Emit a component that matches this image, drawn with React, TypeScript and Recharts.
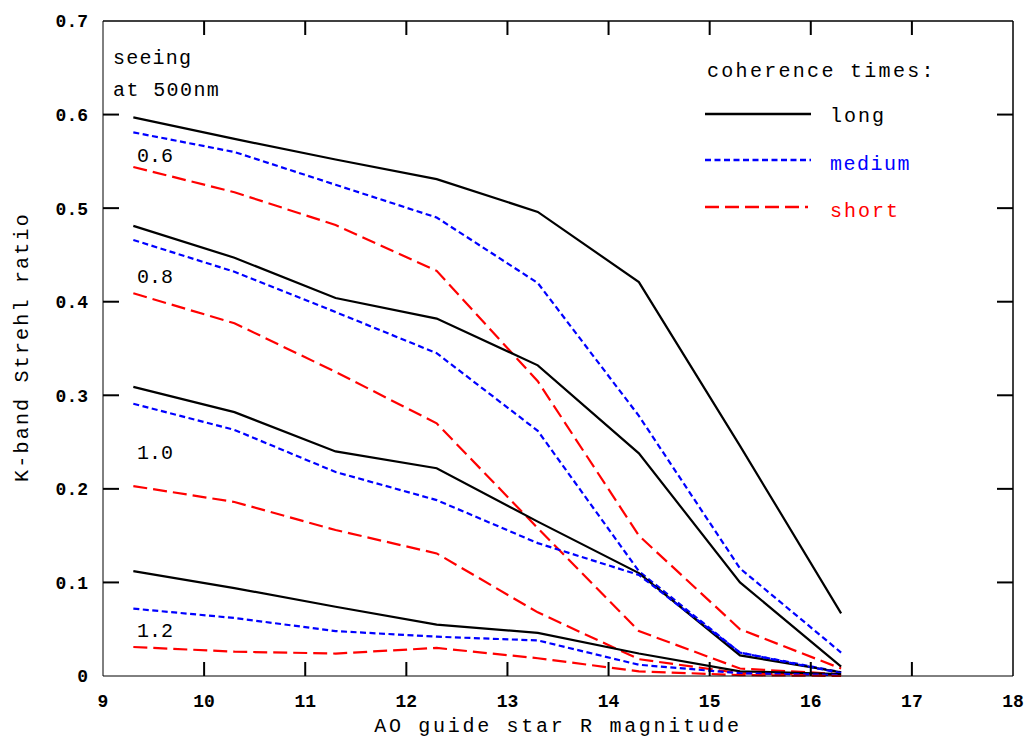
import React from 'react'
import { LineChart, Line, XAxis, YAxis, ReferenceLine } from 'recharts'

// AO guide star R magnitude at which each curve was sampled
const magnitudes = [9.3, 10.3, 11.3, 12.3, 13.3, 14.3, 15.3, 16.3]

// K-band Strehl ratio, one array per seeing value and coherence time
const long06 = [0.597, 0.574, 0.552, 0.531, 0.496, 0.421, 0.246, 0.067]
const medium06 = [0.581, 0.56, 0.525, 0.49, 0.42, 0.278, 0.115, 0.025]
const short06 = [0.544, 0.517, 0.482, 0.433, 0.315, 0.15, 0.05, 0.008]

const long08 = [0.481, 0.447, 0.404, 0.382, 0.332, 0.238, 0.1, 0.01]
const medium08 = [0.466, 0.432, 0.389, 0.345, 0.262, 0.112, 0.025, 0.004]
const short08 = [0.409, 0.377, 0.325, 0.27, 0.158, 0.048, 0.008, 0.002]

const long10 = [0.309, 0.282, 0.24, 0.222, 0.165, 0.11, 0.022, 0.004]
const medium10 = [0.291, 0.263, 0.218, 0.188, 0.142, 0.108, 0.025, 0.003]
const short10 = [0.203, 0.186, 0.156, 0.131, 0.068, 0.018, 0.003, 0.001]

const long12 = [0.112, 0.094, 0.074, 0.055, 0.046, 0.024, 0.005, 0.002]
const medium12 = [0.072, 0.062, 0.048, 0.042, 0.038, 0.012, 0.003, 0.001]
const short12 = [0.031, 0.026, 0.024, 0.03, 0.019, 0.005, 0.001, 0]

const xTicks = [9, 10, 11, 12, 13, 14, 15, 16, 17, 18]
const yTicks = [0, 0.1, 0.2, 0.3, 0.4, 0.5, 0.6, 0.7]
const seeingLabels = ['0.6', '0.8', '1.0', '1.2']

// plot box in pixels (margins + axis sizes below give the same box)
const PLOT = { left: 103, right: 1013, top: 21, bottom: 676 }
const X_DOMAIN = [9, 18]
const Y_DOMAIN = [0, 0.7]

const series = [
  { key: 'long06', values: long06, kind: 'long' },
  { key: 'medium06', values: medium06, kind: 'medium' },
  { key: 'short06', values: short06, kind: 'short' },
  { key: 'long08', values: long08, kind: 'long' },
  { key: 'medium08', values: medium08, kind: 'medium' },
  { key: 'short08', values: short08, kind: 'short' },
  { key: 'long10', values: long10, kind: 'long' },
  { key: 'medium10', values: medium10, kind: 'medium' },
  { key: 'short10', values: short10, kind: 'short' },
  { key: 'long12', values: long12, kind: 'long' },
  { key: 'medium12', values: medium12, kind: 'medium' },
  { key: 'short12', values: short12, kind: 'short' }
]

const styles: Record<string, { color: string; dash?: string }> = {
  long: { color: '#000000' },
  medium: { color: '#0000ff', dash: '6 3.5' },
  short: { color: '#ff0000', dash: '14 6' }
}

const data = magnitudes.map((m, i) => {
  const row: Record<string, number> = { m }
  series.forEach(s => { row[s.key] = s.values[i] })
  return row
})

const FONT = '"Liberation Mono", monospace'
const fmtY = (v: number) => (v === 0 ? '0' : v.toFixed(1))
const tickStyle = { fontFamily: FONT, fontSize: 18, fontWeight: 'bold', fill: '#000' }

const innerX = xTicks.slice(1, -1)
const innerY = yTicks.slice(1, -1)
const px = (v: number) =>
  PLOT.left + ((v - X_DOMAIN[0]) / (X_DOMAIN[1] - X_DOMAIN[0])) * (PLOT.right - PLOT.left)
const py = (v: number) =>
  PLOT.bottom - ((v - Y_DOMAIN[0]) / (Y_DOMAIN[1] - Y_DOMAIN[0])) * (PLOT.bottom - PLOT.top)

const App: React.FC = () => (
  <div style={{ position: 'absolute', left: 0, top: 0, width: 1027, height: 746, background: '#fff' }}>
    <LineChart width={1027} height={746} data={data} margin={{ top: 21, right: 14, bottom: 0, left: 0 }}>
      <XAxis
        dataKey="m"
        type="number"
        domain={X_DOMAIN}
        ticks={xTicks}
        height={70}
        stroke="#000"
        tickLine={false}
        tickMargin={12}
        tick={tickStyle}
        interval={0}
      />
      <YAxis
        type="number"
        domain={Y_DOMAIN}
        ticks={yTicks}
        width={103}
        stroke="#000"
        tickLine={false}
        tickMargin={9}
        tick={tickStyle}
        tickFormatter={fmtY}
        interval={0}
      />

      {/* frame: top and right edges */}
      <ReferenceLine y={Y_DOMAIN[1]} stroke="#000" strokeWidth={1.5} />
      <ReferenceLine x={X_DOMAIN[1]} stroke="#000" strokeWidth={1.5} />

      {series.map(s => (
        <Line
          key={s.key}
          dataKey={s.key}
          type="linear"
          stroke={styles[s.kind].color}
          strokeDasharray={styles[s.kind].dash}
          strokeWidth={2.2}
          dot={false}
          activeDot={false}
          isAnimationActive={false}
        />
      ))}
    </LineChart>

    <svg
      width={1027}
      height={746}
      style={{ position: 'absolute', left: 0, top: 0, pointerEvents: 'none' }}
      fontFamily={FONT}
      fill="#000"
    >
      {/* inward tick marks on all four sides */}
      <g stroke="#000" strokeWidth={2}>
        {innerY.map(t => (
          <line key={`l${t}`} x1={PLOT.left} x2={PLOT.left + 16} y1={py(t)} y2={py(t)} />
        ))}
        {innerY.map(t => (
          <line key={`r${t}`} x1={PLOT.right} x2={PLOT.right - 16} y1={py(t)} y2={py(t)} />
        ))}
        {innerX.map(t => (
          <line key={`b${t}`} x1={px(t)} x2={px(t)} y1={PLOT.bottom} y2={PLOT.bottom - 14} />
        ))}
        {innerX.map(t => (
          <line key={`t${t}`} x1={px(t)} x2={px(t)} y1={PLOT.top} y2={PLOT.top + 14} />
        ))}
      </g>

      <text x={113} y={64} fontSize={20} letterSpacing={1.2}>seeing</text>
      <text x={113} y={96} fontSize={20} letterSpacing={1.4}>at 500nm</text>

      {seeingLabels.map((lab, i) => (
        <text key={lab} x={137} y={[162, 283, 459, 637][i]} fontSize={20}>{lab}</text>
      ))}

      <text x={707} y={77} fontSize={20} letterSpacing={2.3}>coherence times:</text>
      <line x1={705} x2={811} y1={114} y2={114} stroke="#000" strokeWidth={2.5} />
      <line x1={705} x2={811} y1={160} y2={160} stroke="#0000ff" strokeWidth={2.5} strokeDasharray="6 3.5" />
      <line x1={705} x2={808} y1={207} y2={207} stroke="#ff0000" strokeWidth={2.5} strokeDasharray="14 6" />
      <text x={830} y={122} fontSize={20} letterSpacing={2}>long</text>
      <text x={830} y={170} fontSize={20} letterSpacing={1.5} fill="#0000ff">medium</text>
      <text x={830} y={217} fontSize={20} letterSpacing={2} fill="#ff0000">short</text>

      <text x={558} y={732} fontSize={20} letterSpacing={2.7} textAnchor="middle">
        AO guide star R magnitude
      </text>
      <text
        x={28}
        y={347}
        fontSize={20}
        letterSpacing={2.2}
        textAnchor="middle"
        transform="rotate(-90 28 347)"
      >
        K-band Strehl ratio
      </text>
    </svg>
  </div>
)

export default App
